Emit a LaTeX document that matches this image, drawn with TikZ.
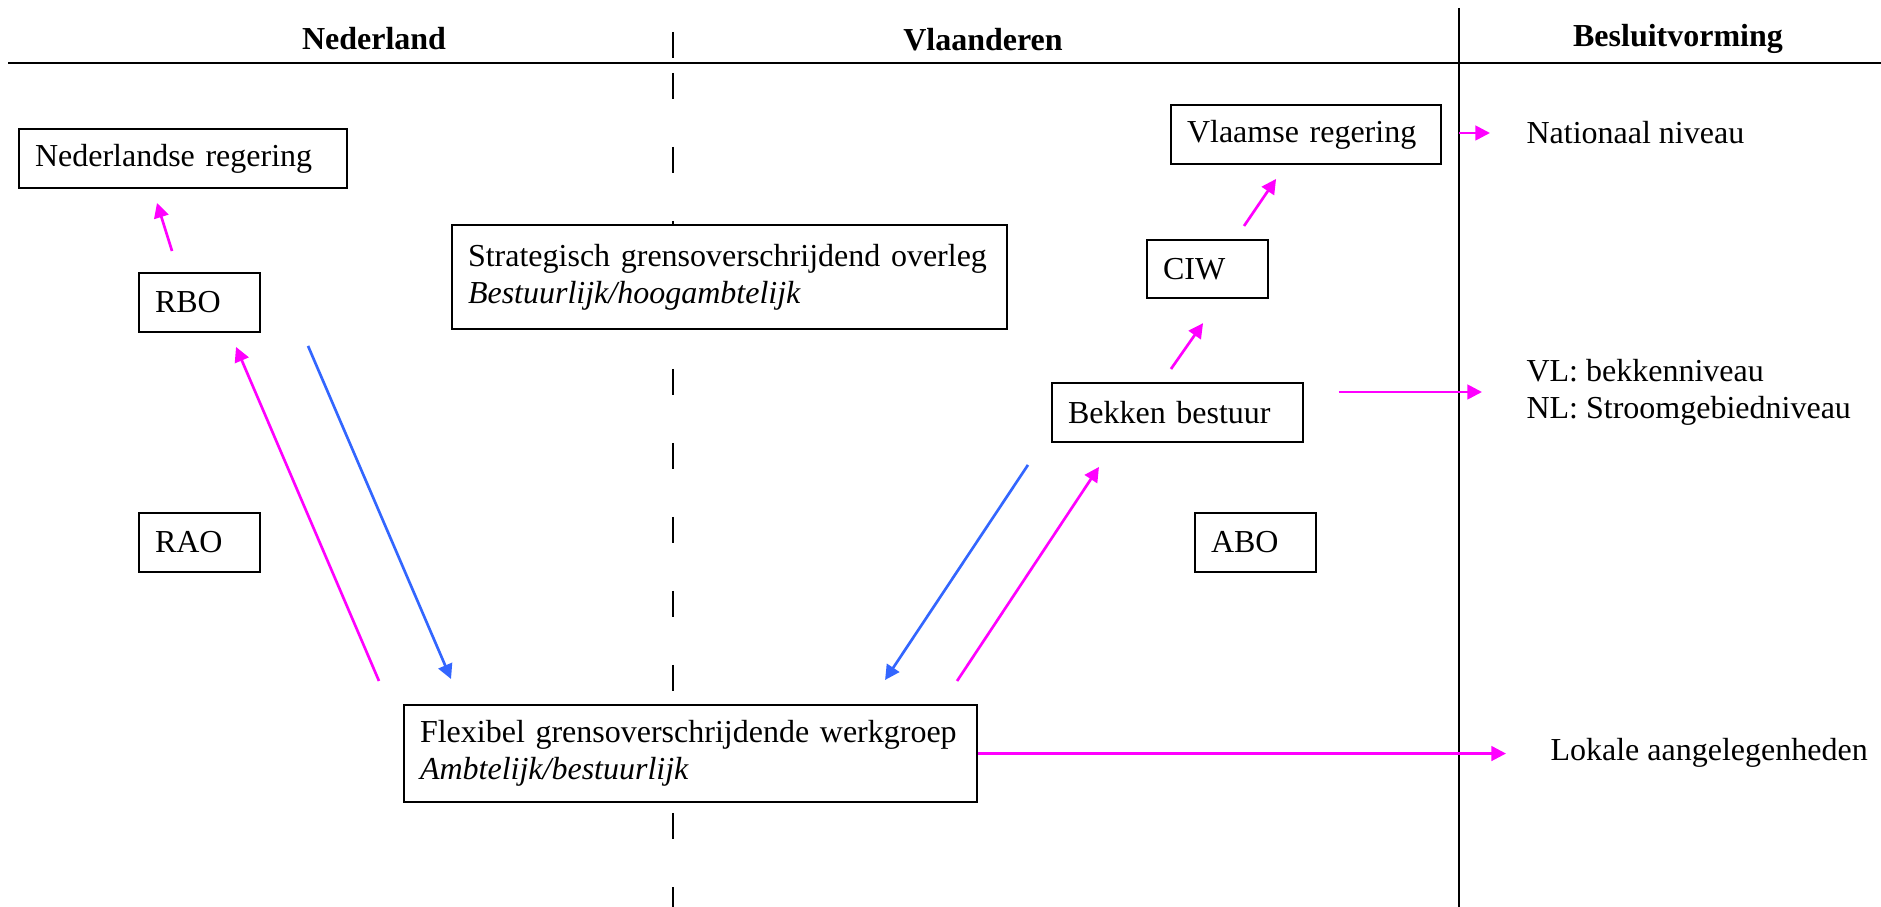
\documentclass[tikz,border=0pt]{standalone}
\usepackage{fontspec}
\setmainfont{Liberation Serif}
\usepackage{xcolor}
\usetikzlibrary{arrows.meta,calc,positioning}
\definecolor{roze}{RGB}{255,0,255}
\definecolor{blauw}{RGB}{51,102,255}
\tikzset{%
	box/.style        = {draw, line width=0.75pt, fill=white, rectangle, anchor=north west, inner xsep=6pt, align=left},
	note/.style       = {anchor=west, inner sep=0pt, align=left},
	kop/.style        = {font=\fontsize{12}{13.8}\selectfont\bfseries},
	streep/.style     = {line width=0.5pt, dash pattern=on 9.75pt off 18pt},
	pijl/.style       = {line width=1pt, -{Triangle[length=5.5pt,width=5.5pt]}},
	rozepijl/.style   = {pijl, draw=roze, fill=roze},
	blauwepijl/.style = {pijl, draw=blauw, fill=blauw},
}

\begin{document}
\begin{tikzpicture}[x=0.375pt, y=-0.375pt, font=\fontsize{12}{13.8}\selectfont]
		\useasboundingbox (0,0) rectangle (1881,907);
		% kolommen
		\draw[line width=0.75pt] (8,63) -- (1881,63);
		\draw[line width=0.75pt] (1459,8) -- (1459,907);
		\draw[streep] (673,32) -- (673,58);
		\draw[streep] (673,73) -- (673,907);
		\node[kop] (hnl) at (374,39) {Nederland};
		\node[kop] (hvl) at (983,40) {Vlaanderen};
		\node[kop] (hbv) at (1678,39) {Besluitvorming};
		% Nederland
		\node[box, text width=111pt, minimum height=22.1pt] (nlreg) at (18,128) {Nederlandse regering};
		\node[box, text width=33.4pt, minimum height=22.1pt] (rbo) at (138,272) {RBO};
		\node[box, text width=33.4pt, minimum height=22.1pt] (rao) at (138,512) {RAO};
		% midden
		\node[box, text width=196.1pt, minimum height=39pt] (strat) at (451,224) {Strategisch grensoverschrijdend overleg\\\textit{Bestuurlijk/hoogambtelijk}};
		\node[box, text width=202.9pt, minimum height=36.4pt] (flex) at (403,704) {Flexibel grensoverschrijdende werkgroep\\\textit{Ambtelijk/bestuurlijk}};
		% Vlaanderen
		\node[box, text width=89.3pt, minimum height=22.1pt] (vlreg) at (1170,104) {Vlaamse regering};
		\node[box, text width=33.4pt, minimum height=21.8pt] (ciw) at (1146,239) {CIW};
		\node[box, text width=82.1pt, minimum height=22.1pt] (bekken) at (1051,382) {Bekken bestuur};
		\node[box, text width=33.4pt, minimum height=22.1pt] (abo) at (1194,512) {ABO};
		% besluitvorming
		\node[note] (nat) at (1526,133) {Nationaal niveau};
		\node[note] (bekniv) at (1526,392) {VL: bekkenniveau\\NL: Stroomgebiedniveau};
		\node[note] (lok) at (1550,753) {Lokale aangelegenheden};
		% pijlen
		\draw[rozepijl] ($(rbo.north)+(-27.5,-21)$) -- ($(nlreg.south)+(-26,14)$);
		\draw[rozepijl] ($(flex.north west)+(-24,-23)$) -- ($(rbo.south)+(36.5,14)$);
		\draw[blauwepijl] ($(rbo.south)+(108.5,13)$) -- ($(flex.north west)+(48,-25)$);
		\draw[blauwepijl] ($(bekken.south)+(-149.5,22)$) -- ($(flex.north east)+(-93,-24)$);
		\draw[rozepijl] ($(flex.north east)+(-21,-23)$) -- ($(bekken.south)+(-78.5,24)$);
		\draw[rozepijl] ($(bekken.north)+(-6.5,-13)$) -- ($(ciw.south)+(-4.5,24)$);
		\draw[rozepijl] ($(ciw.north)+(36.5,-13)$) -- ($(vlreg.south)+(-30,14)$);
		\draw[rozepijl, shorten <=6.4pt, shorten >=13.5pt] (nat.west -| vlreg.east) -- (nat.west);
		\draw[rozepijl, shorten <=13.1pt, shorten >=16.5pt] (bekniv.west -| bekken.east) -- (bekniv.west);
		\draw[rozepijl, shorten >=16.5pt] (flex.east) -- (flex.east -| lok.west);
\end{tikzpicture}
\end{document}
